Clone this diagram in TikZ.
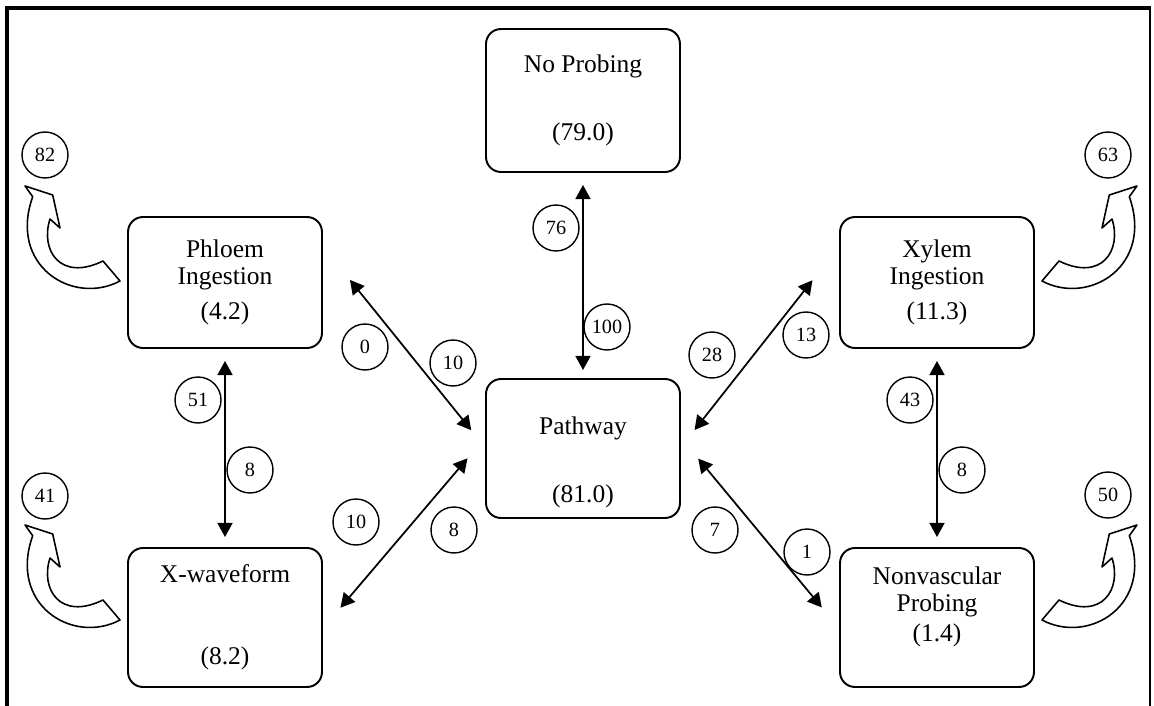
\documentclass[tikz,border=0pt]{standalone}
\usepackage{fontspec}
\setmainfont{Liberation Serif}
\usetikzlibrary{arrows.meta}

\tikzset{
    estado/.style={draw, line width=1.1pt, rounded corners=8.5pt, outer sep=0pt,
        minimum width=3.88cm, align=center, inner sep=0pt,
        font=\fontsize{14.5pt}{15.3pt}\selectfont},
    texto/.style={align=center, inner sep=0pt, font=\fontsize{14.5pt}{15.3pt}\selectfont},
    num/.style={draw, circle, line width=0.8pt, minimum size=0.92cm, inner sep=0pt,
        font=\fontsize{11.5pt}{12pt}\selectfont},
    flecha/.style={line width=1pt,
        {Triangle[length=8pt,width=8.5pt]}-{Triangle[length=8pt,width=8.5pt]}},
    curva/.pic={
        \draw[line width=0.9pt, line join=round] (0,0) -- (27.7,9) -- (35,42) -- (25,33)
            .. controls (15,64) and (35,96) .. (78,75) -- (95,95)
            .. controls (48,120) and (-17,80) .. (7.7,10.7) -- cycle;
    }
}

\begin{document}
\begin{tikzpicture}[x=0.02cm, y=-0.02cm]

    \useasboundingbox (0,0) rectangle (1154,706);

    % Marco
    \draw[line width=2.3pt] (7,706) -- (7,8) -- (1151,8);
    \draw[line width=0.8pt] (1150,8) -- (1150,706);

    % Estados
    \node[estado, minimum height=2.86cm] (nopro) at (583,100.5) {No Probing\\[23.8pt](79.0)};
    \node[estado, minimum height=2.78cm] (via) at (583,448.5) {};
    \node[texto, yshift=-0.28cm] (viatxt) at (via) {Pathway\\[23.8pt](81.0)};
    \node[estado, minimum height=2.62cm] (floema) at (225,282.5) {Phloem\\Ingestion\\[5.1pt](4.2)};
    \node[estado, minimum height=2.62cm] (xilema) at (937,282.5) {Xylem\\Ingestion\\[5.1pt](11.3)};
    \node[estado, minimum height=2.78cm] (ondax) at (225,617.5) {X-waveform\\[31.2pt](8.2)};
    \node[estado, minimum height=2.78cm] (novasc) at (937,617.5) {};
    \node[texto, yshift=0.22cm] (novasctxt) at (novasc) {Nonvascular\\Probing\\[1.7pt](1.4)};

    % Transiciones
    \draw[flecha, shorten <=0.26cm, shorten >=0.18cm] (nopro) -- (via);
    \draw[flecha, shorten <=0.26cm, shorten >=0.22cm] (floema) -- (ondax);
    \draw[flecha, shorten <=0.26cm, shorten >=0.22cm] (xilema) -- (novasc);
    \draw[flecha, shorten <=0.89cm, shorten >=0.47cm] (floema.21) -- (via.west);
    \draw[flecha, shorten <=0.89cm, shorten >=0.47cm] (xilema.159) -- (via.east);
    \draw[flecha, shorten <=0.57cm, shorten >=0.57cm] (via.7) -- (novasc.187);
    \draw[flecha, shorten <=0.57cm, shorten >=0.57cm] (via.173) -- (ondax.-7);

    % Permanencia
    \pic at (25,186) {curva};
    \pic at (25,525) {curva};
    \pic[xscale=-1] at (1137,186) {curva};
    \pic[xscale=-1] at (1137,525) {curva};

    % Numeros
    \node[num] (n82) at (45,155) {82};
    \node[num] (n41) at (45,496) {41};
    \node[num] (n63) at (1108,155) {63};
    \node[num] (n50) at (1108,495) {50};
    \node[num] (n76) at (556,228) {76};
    \node[num] (n100) at (607,327) {100};
    \node[num] (n0) at (365,347) {0};
    \node[num] (n10a) at (453,363) {10};
    \node[num] (n28) at (712,355) {28};
    \node[num] (n13) at (806,335) {13};
    \node[num] (n51) at (198,400) {51};
    \node[num] (n8a) at (250,470) {8};
    \node[num] (n43) at (910,400) {43};
    \node[num] (n8b) at (962,470) {8};
    \node[num] (n10b) at (356,522) {10};
    \node[num] (n8c) at (454,530) {8};
    \node[num] (n7) at (715,530) {7};
    \node[num] (n1) at (807,552) {1};

\end{tikzpicture}
\end{document}
